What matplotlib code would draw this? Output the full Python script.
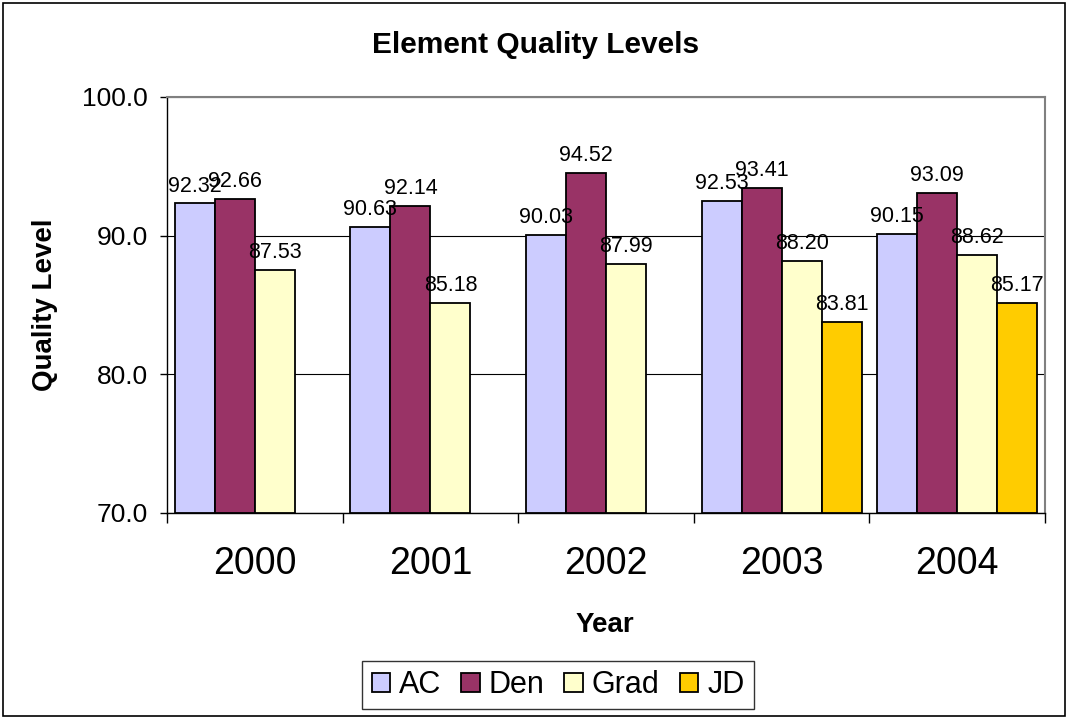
import numpy as np
import matplotlib
matplotlib.use("Agg")
import matplotlib.pyplot as plt
from matplotlib.patches import Rectangle
from matplotlib.ticker import FixedLocator, FormatStrFormatter, NullFormatter

years = ["2000", "2001", "2002", "2003", "2004"]
series_names = ["AC", "Den", "Grad", "JD"]
ac = [92.32, 90.63, 90.03, 92.53, 90.15]
den = [92.66, 92.14, 94.52, 93.41, 93.09]
grad = [87.53, 85.18, 87.99, 88.20, 88.62]
jd = [np.nan, np.nan, np.nan, 83.81, 85.17]
colors = ["#CCCCFF", "#993366", "#FFFFCC", "#FFCC00"]

plt.rcParams['font.family'] = ['Liberation Sans', 'DejaVu Sans']

W, H = 1068, 719
fig = plt.figure(figsize=(W / 100, H / 100), dpi=100)
fig.patch.set_facecolor("white")

ax_l, ax_r, ax_t, ax_b = 167, 1045, 97, 513
ax = fig.add_axes([ax_l / W, 1 - ax_b / H, (ax_r - ax_l) / W, (ax_b - ax_t) / H])

x = np.arange(len(years))
bw = 40 / 175.6
all_series = [ac, den, grad, jd]
for k, (name, vals, c) in enumerate(zip(series_names, all_series, colors)):
    pos = x + (k - 1.5) * bw
    v = np.array(vals, dtype=float)
    ax.bar(pos, v - 70, bottom=70, width=bw, color=c, edgecolor="black",
           linewidth=1.3, label=name, zorder=3)
    for px, val in zip(pos, v):
        if np.isnan(val):
            continue
        ax.annotate(f"{val:.2f}", (px, val), xytext=(0, 5), textcoords="offset points",
                    ha="center", va="bottom", fontsize=15.5, zorder=5)

ax.set_xlim(-0.5, len(years) - 0.5)
ax.set_ylim(70, 100)
ax.set_yticks([70, 80, 90, 100])
ax.yaxis.set_major_formatter(FormatStrFormatter("%.1f"))
ax.yaxis.grid(True, color="black", linewidth=0.8, zorder=1)
ax.set_axisbelow(True)

ax.xaxis.set_major_locator(FixedLocator(np.arange(len(years) + 1) - 0.5))
ax.xaxis.set_major_formatter(NullFormatter())
ax.xaxis.set_minor_locator(FixedLocator(x))
ax.set_xticklabels(years, minor=True)
ax.tick_params(axis="x", which="major", length=7, width=1, direction="out")
ax.tick_params(axis="x", which="minor", length=0, pad=24, labelsize=27)
ax.tick_params(axis="y", which="major", length=5, width=1, direction="out", pad=9, labelsize=19)

for s in ["top", "right"]:
    ax.spines[s].set_color("#808080")
    ax.spines[s].set_linewidth(1.5)
for s in ["left", "bottom"]:
    ax.spines[s].set_color("black")
    ax.spines[s].set_linewidth(1)

fig.text(536 / W, 1 - 45 / H, "Element Quality Levels", ha="center", va="center",
         fontsize=21.5, fontweight="bold")
fig.text(605 / W, 1 - 625 / H, "Year", ha="center", va="center", fontsize=20, fontweight="bold")
fig.text(45 / W, 1 - 305 / H, "Quality Level", ha="center", va="center", fontsize=20,
         fontweight="bold", rotation=90)

leg = fig.legend(loc="center", bbox_to_anchor=(558 / W, 1 - 685 / H), ncol=4, fontsize=22,
                 frameon=True, fancybox=False, edgecolor="black", handlelength=0.6,
                 handleheight=0.6, handletextpad=0.3, columnspacing=0.65,
                 borderpad=0.3, borderaxespad=0)
leg.get_frame().set_linewidth(1.0)

fig.patches.append(Rectangle((3 / W, 3 / H), (W - 6) / W, (H - 6) / H, transform=fig.transFigure,
                             fill=False, edgecolor="black", linewidth=1.2))

fig.savefig("out.png", dpi=100)
